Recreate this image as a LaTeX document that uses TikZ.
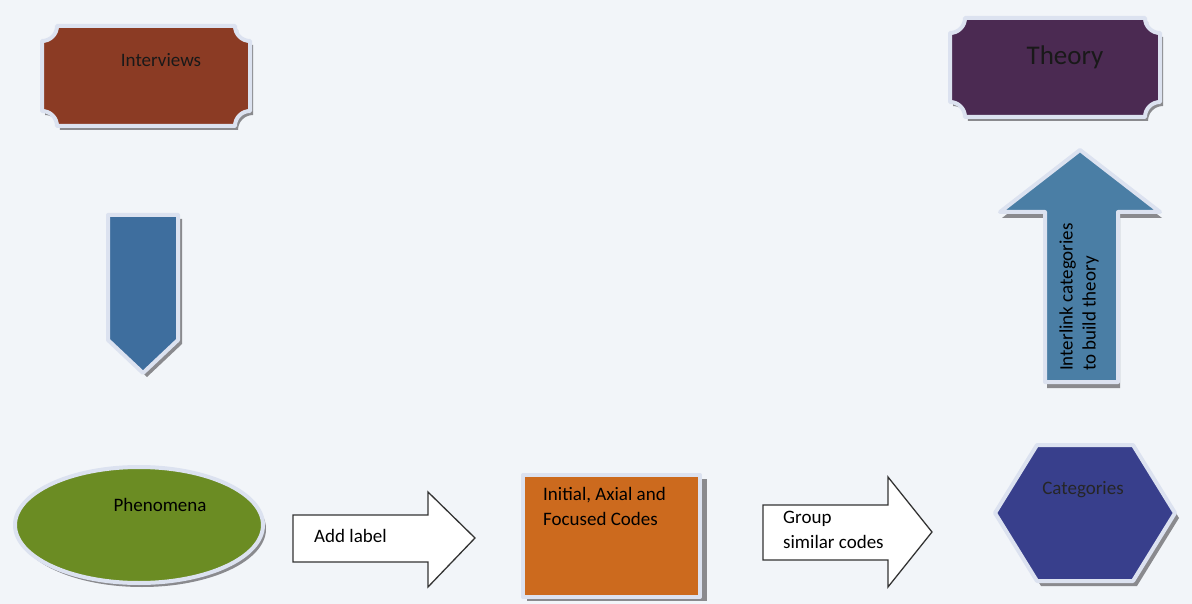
\documentclass[tikz,border=0pt]{standalone}
\usepackage{fontspec}
\setmainfont{Carlito}
\definecolor{bgc}{HTML}{F2F5F9}
\definecolor{glowc}{HTML}{DCE2F0}
\definecolor{shadowc}{HTML}{8A8A8E}
\definecolor{intc}{HTML}{8B3B24}
\definecolor{thec}{HTML}{4B2A52}
\definecolor{darr}{HTML}{3E6E9E}
\definecolor{uarr}{HTML}{4A7EA5}
\definecolor{phec}{HTML}{6B8C23}
\definecolor{codc}{HTML}{CC6A1E}
\definecolor{catc}{HTML}{383F8C}
\begin{document}
\begin{tikzpicture}[x=1pt,y=-1pt,
  plaque/.style n args={5}{insert path={
    ({#1+#5},#2) -- ({#3-#5},#2)
    .. controls ({#3-#5},{#2+0.55*#5}) and ({#3-0.55*#5},{#2+#5}) .. (#3,{#2+#5})
    -- (#3,{#4-#5})
    .. controls ({#3-0.55*#5},{#4-#5}) and ({#3-#5},{#4-0.55*#5}) .. ({#3-#5},#4)
    -- ({#1+#5},#4)
    .. controls ({#1+#5},{#4-0.55*#5}) and ({#1+0.55*#5},{#4-#5}) .. (#1,{#4-#5})
    -- (#1,{#2+#5})
    .. controls ({#1+0.55*#5},{#2+#5}) and ({#1+#5},{#2+0.55*#5}) .. ({#1+#5},#2)
    -- cycle}},
  glow/.style={draw=glowc, line width=4pt, line join=round},
  shadow/.style={fill=shadowc},
  outlinearrow/.style={draw=black!80, line width=1.3pt, fill=white, line join=miter},
  lbl/.style={font=\fontsize{19}{25}\selectfont, text=black, inner sep=0pt},
]
\fill[bgc] (0,0) rectangle (1192,604);
\useasboundingbox (0,0) rectangle (1192,604);

% Interviews
\path[shadow, shift={(3,4)}, plaque={42}{26}{250}{126}{15}];
\path[glow, fill=intc, plaque={42}{26}{250}{126}{15}];
\node[lbl, text=black!90] (interviews) at (161,60) {Interviews};

% Theory
\path[shadow, shift={(3,4)}, plaque={950}{18}{1160}{117}{15}];
\path[glow, fill=thec, plaque={950}{18}{1160}{117}{15}];
\node[lbl, text=black!90, font=\fontsize{27}{30}\selectfont] (theory) at (1065,57) {Theory};

% Down arrow
\path[shadow, shift={(4,4)}] (108,215) -- (178,215) -- (178,340) -- (143,373) -- (108,340) -- cycle;
\path[glow, fill=darr] (108,215) -- (178,215) -- (178,340) -- (143,373) -- (108,340) -- cycle;

% Up arrow
\path[shadow, shift={(2,6)}] (1045,382) -- (1045,212) -- (1000,212) -- (1080,150) -- (1160,212) -- (1118,212) -- (1118,382) -- cycle;
\path[glow, fill=uarr] (1045,382) -- (1045,212) -- (1000,212) -- (1080,150) -- (1160,212) -- (1118,212) -- (1118,382) -- cycle;
\node[lbl, font=\fontsize{19}{23}\selectfont, rotate=90, anchor=west, align=left] (interlink) at (1079,371) {Interlink categories\\to build theory};

% Phenomena
\fill[shadowc] (142,529) ellipse (124 and 58);
\path[glow, fill=phec] (139,525) ellipse (124 and 58);
\node[lbl] (phenomena) at (160,505) {Phenomena};

% Add label arrow
\path[outlinearrow] (293,515) -- (428,515) -- (428,492) -- (475,538) -- (428,587) -- (428,562) -- (293,562) -- cycle;
\node[lbl, anchor=west] (addlabel) at (314,536) {Add label};

% Codes
\path[shadow] (527,479) rectangle (707,601);
\path[glow, fill=codc] (523,475) rectangle (700,597);
\node[lbl, anchor=north west, align=left] (codes) at (543,487) {Initial, Axial and\\Focused Codes};

% Group arrow
\path[outlinearrow] (763,505) -- (888,505) -- (888,477) -- (932,532) -- (888,587) -- (888,560) -- (763,560) -- cycle;
\node[lbl, anchor=north west, align=left] (group) at (783,511) {Group\\similar codes};

% Categories
\path[shadow, shift={(4,5)}] (1037,445) -- (1133,445) -- (1175,513) -- (1133,581) -- (1037,581) -- (995,513) -- cycle;
\path[glow, fill=catc] (1037,445) -- (1133,445) -- (1175,513) -- (1133,581) -- (1037,581) -- (995,513) -- cycle;
\node[lbl, text=black!85] (categories) at (1083,490) {Categories};
\end{tikzpicture}
\end{document}
